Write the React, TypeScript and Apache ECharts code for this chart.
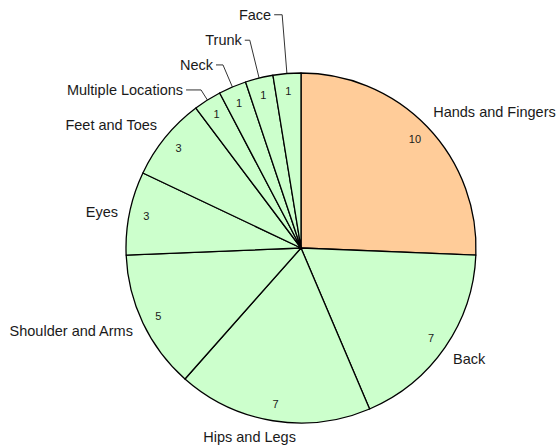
import React, { useEffect, useRef } from "react";
import * as echarts from "echarts";

const categories = [
  "Hands and Fingers",
  "Back",
  "Hips and Legs",
  "Shoulder and Arms",
  "Eyes",
  "Feet and Toes",
  "Multiple Locations",
  "Neck",
  "Trunk",
  "Face",
];
const values = [10, 7, 7, 5, 3, 3, 1, 1, 1, 1];
const highlightIndex = 0;

// leader line lengths (0 = no leader line shown)
const lineLength = [0, 0, 0, 0, 0, 0, 12, 24, 39, 59];
const lineLength2 = [0, 0, 0, 0, 0, 0, 15, 7, 5, 8];
// small label nudges for labels without a leader line
const labelNudge: [number, number][] = [
  [3, -15],
  [5, 12],
  [26, 16],
  [-7, 8],
  [-8.5, -1],
  [-5.4, -12],
  [0, 0],
  [0, 0],
  [0, 0],
  [0, 0],
];

const FONT = '"Liberation Sans", Arial, Helvetica, sans-serif';

export default function App() {
  const ref = useRef<HTMLDivElement>(null);
  useEffect(() => {
    if (!ref.current) return;
    const chart = echarts.init(ref.current, undefined, { renderer: "svg" });
    const mainData = categories.map((name, i) => ({
      name,
      value: values[i],
      itemStyle: { color: i === highlightIndex ? "#FFCC99" : "#CCFFCC" },
      labelLine: {
        show: lineLength[i] > 0,
        length: lineLength[i],
        length2: lineLength2[i],
      },
    }));
    const valueData = categories.map((name, i) => ({ name, value: values[i] }));
    chart.setOption({
      animation: false,
      backgroundColor: "#ffffff",
      series: [
        {
          type: "pie",
          center: [301, 248],
          radius: [0, 175],
          startAngle: 90,
          clockwise: true,
          avoidLabelOverlap: false,
          emphasis: { disabled: true },
          itemStyle: { borderColor: "#000000", borderWidth: 1.3 },
          label: {
            show: true,
            position: "outside",
            formatter: "{b}",
            fontFamily: FONT,
            fontSize: 14.5,
            color: "#1a1a1a",
            distanceToLabelLine: 3,
          },
          labelLine: {
            minTurnAngle: 0,
            maxSurfaceAngle: 180,
            lineStyle: { color: "#333333", width: 1 },
          },
          labelLayout: (params: any) => {
            const n = labelNudge[params.dataIndex];
            if (!n || (n[0] === 0 && n[1] === 0)) return {};
            return { dx: n[0], dy: n[1] };
          },
          data: mainData,
        },
        {
          type: "pie",
          center: [301, 248],
          radius: [135, 175],
          startAngle: 90,
          clockwise: true,
          silent: true,
          avoidLabelOverlap: false,
          emphasis: { disabled: true },
          itemStyle: { color: "rgba(0,0,0,0)", borderWidth: 0 },
          label: {
            show: true,
            position: "inside",
            formatter: "{c}",
            fontFamily: FONT,
            fontSize: 11,
            color: "#1a1a1a",
          },
          labelLine: { show: false },
          data: valueData,
        },
      ],
    });
    return () => chart.dispose();
  }, []);
  return (
    <div
      ref={ref}
      style={{ position: "absolute", left: 0, top: 0, width: 558, height: 445 }}
    />
  );
}
